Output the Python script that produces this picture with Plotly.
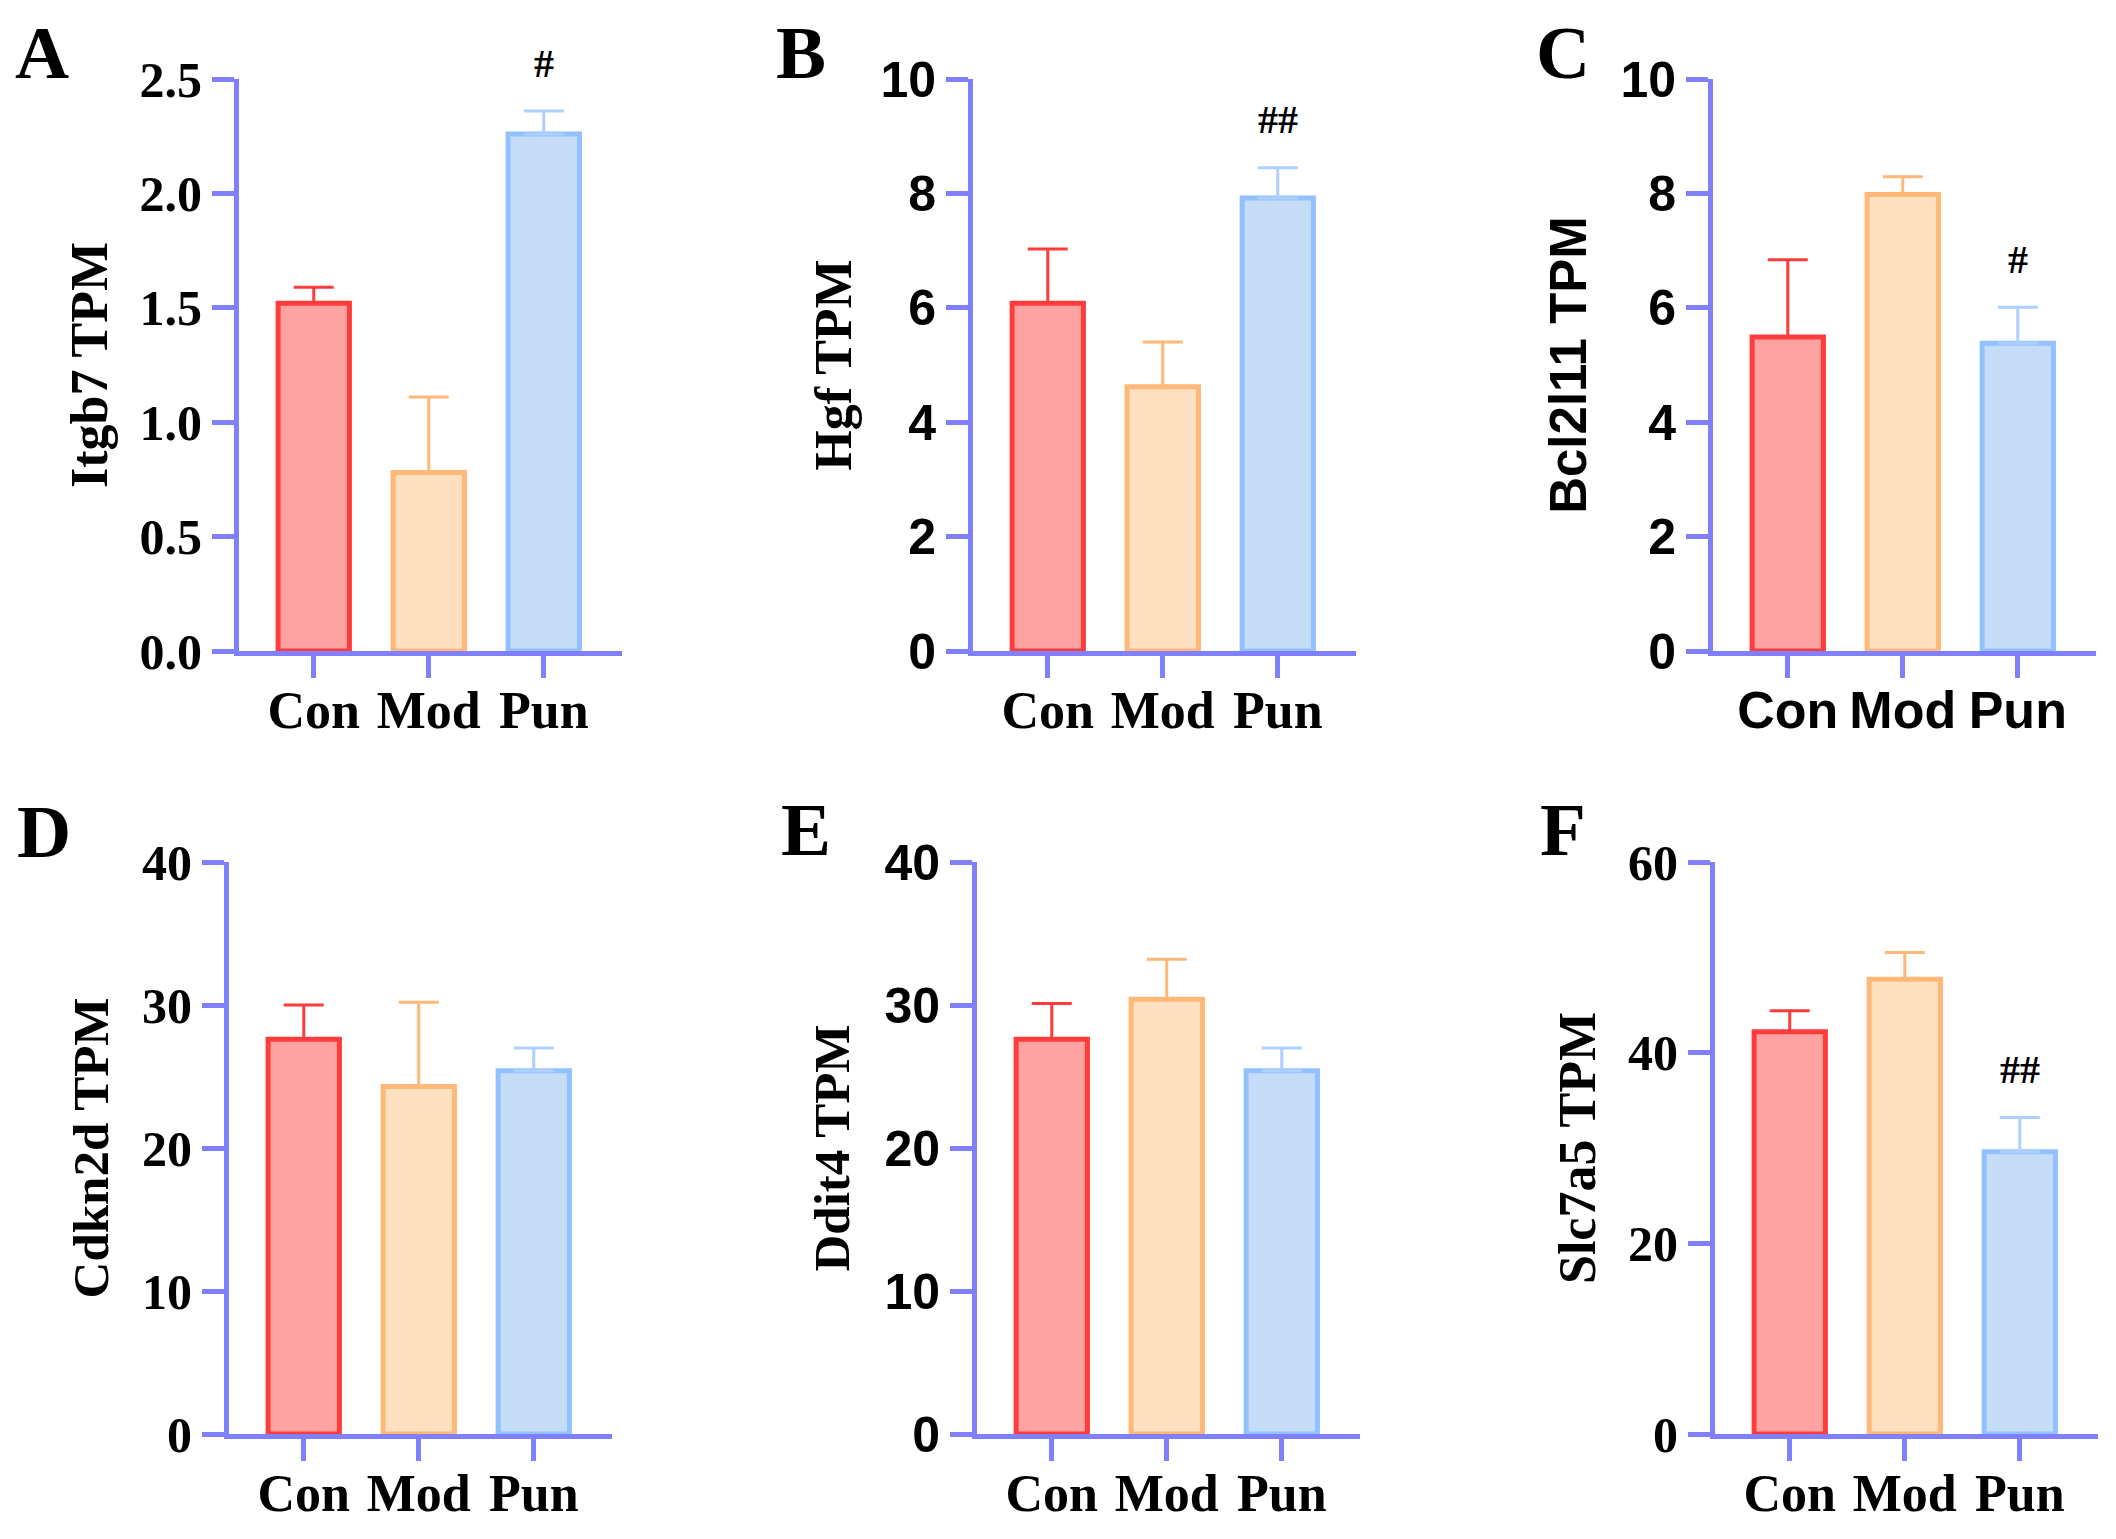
import plotly.graph_objects as go

groups = ["Con", "Mod", "Pun"]

itgb7_mean = [1.52, 0.78, 2.26]
itgb7_err = [0.07, 0.33, 0.10]
hgf_mean = [6.08, 4.62, 7.92]
hgf_err = [0.95, 0.78, 0.53]
bcl2l11_mean = [5.49, 7.98, 5.38]
bcl2l11_err = [1.35, 0.31, 0.63]
cdkn2d_mean = [27.6, 24.3, 25.4]
cdkn2d_err = [2.4, 5.9, 1.6]
ddit4_mean = [27.6, 30.4, 25.4]
ddit4_err = [2.5, 2.8, 1.6]
slc7a5_mean = [42.2, 47.7, 29.6]
slc7a5_err = [2.2, 2.8, 3.6]

itgb7_sig = ["", "", "#"]
hgf_sig = ["", "", "##"]
bcl2l11_sig = ["", "", "#"]
cdkn2d_sig = ["", "", ""]
ddit4_sig = ["", "", ""]
slc7a5_sig = ["", "", "##"]

titles = ["Itgb7 TPM", "Hgf TPM", "Bcl2l11 TPM", "Cdkn2d TPM", "Ddit4 TPM", "Slc7a5 TPM"]
letters = ["A", "B", "C", "D", "E", "F"]
y_max = [2.5, 10, 10, 40, 40, 60]
y_step = [0.5, 2, 2, 10, 10, 20]

means = [itgb7_mean, hgf_mean, bcl2l11_mean, cdkn2d_mean, ddit4_mean, slc7a5_mean]
errs = [itgb7_err, hgf_err, bcl2l11_err, cdkn2d_err, ddit4_err, slc7a5_err]
sigs = [itgb7_sig, hgf_sig, bcl2l11_sig, cdkn2d_sig, ddit4_sig, slc7a5_sig]

SERIF = "Liberation Serif"
SANS = "Liberation Sans"
AXIS = "#8080FF"
fill = ["#FFA2A2", "#FFE0C0", "#C6DDF8"]
edge = ["#FF3C3C", "#FFB877", "#92C1FF"]
errc = ["#FF3C3C", "#FFB877", "#ADD0FF"]

# fonts per panel: (y ticks, y title, x ticks)
fonts = [
    (SERIF, SERIF, SERIF),
    (SANS, SERIF, SERIF),
    (SANS, SANS, SANS),
    (SERIF, SERIF, SERIF),
    (SANS, SERIF, SERIF),
    (SERIF, SERIF, SERIF),
]

W, H = 2116, 1539
OFF = 8  # page body margin


def px_x(x):
    return (x - OFF) / W


def px_y(y):
    return 1 - (y - OFF) / H


# panel frames in pixels: (left, right) and (top, bottom)
x_px = [(239, 622), (973, 1356), (1713, 2096), (229, 612), (977, 1360), (1715, 2098)]
y_px = [(79, 651)] * 3 + [(862, 1434)] * 3
letter_px = [(13, 9), (774, 9), (1534, 9), (15, 788), (779, 786), (1538, 786)]
standoff = [17, 14, 19, 19, 20, 17]
title_size = [52, 52, 51, 51, 51, 52]

fig = go.Figure()
layout = {}
annotations = []

for i in range(6):
    n = "" if i == 0 else str(i + 1)
    for j, g in enumerate(groups):
        fig.add_trace(go.Bar(
            x=[g], y=[means[i][j]],
            xaxis="x" + n, yaxis="y" + n,
            width=0.62,
            marker=dict(color=fill[j], line=dict(color=edge[j], width=5)),
            error_y=dict(type="data", symmetric=False, array=[errs[i][j]],
                         arrayminus=[0], color=errc[j], thickness=3, width=20),
        ))
        if sigs[i][j]:
            annotations.append(dict(
                x=g, y=means[i][j] + errs[i][j],
                xref="x" + n, yref="y" + n, text=sigs[i][j], showarrow=False,
                yanchor="middle", yshift=48,
                font=dict(family=SERIF, size=40, color="black", weight="bold"),
            ))
    ytf, ttf, xtf = fonts[i]
    layout["xaxis" + n] = dict(
        domain=[px_x(x_px[i][0]), px_x(x_px[i][1])], anchor="y" + n, type="category",
        categoryorder="array", categoryarray=groups, range=[-0.65, 2.68],
        showline=True, linecolor=AXIS, linewidth=5,
        ticks="outside", ticklen=22, tickwidth=5, tickcolor=AXIS,
        ticklabelstandoff=-12,
        tickfont=dict(family=xtf, size=52, color="black", weight="bold"),
        showgrid=False, zeroline=False, fixedrange=True, automargin=False,
    )
    layout["yaxis" + n] = dict(
        domain=[px_y(y_px[i][1]), px_y(y_px[i][0])], anchor="x" + n,
        range=[0, y_max[i]], dtick=y_step[i],
        tick0=0, tickformat=".1f" if i == 0 else "d",
        showline=True, linecolor=AXIS, linewidth=5,
        ticks="outside", ticklen=22, tickwidth=5, tickcolor=AXIS,
        tickfont=dict(family=ytf, size=50, color="black", weight="bold"),
        title=dict(text=titles[i], standoff=standoff[i],
                   font=dict(family=ttf, size=title_size[i], color="black", weight="bold")),
        showgrid=False, zeroline=False, fixedrange=True, automargin=False,
    )
    lx, ly = letter_px[i]
    annotations.append(dict(
        x=px_x(lx), y=px_y(ly), xref="paper", yref="paper", text=letters[i],
        showarrow=False, xanchor="left", yanchor="top",
        font=dict(family=SERIF, size=75, color="black", weight="bold"),
    ))

fig.update_layout(
    width=W, height=H, margin=dict(l=0, r=0, t=0, b=0, autoexpand=False),
    paper_bgcolor="white", plot_bgcolor="white",
    showlegend=False, barmode="overlay",
    annotations=annotations, **layout,
)

fig.write_html("out.html")
